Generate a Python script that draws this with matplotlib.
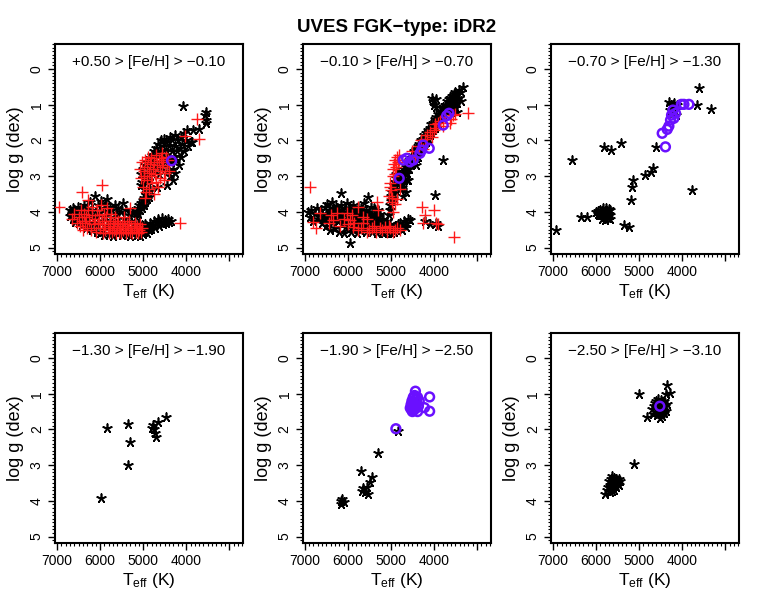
import numpy as np
import matplotlib
matplotlib.use("Agg")
import matplotlib.pyplot as plt
from matplotlib.ticker import MultipleLocator, FixedLocator

plt.rcParams['font.family'] = ['Liberation Sans', 'DejaVu Sans']
plt.rcParams['mathtext.default'] = 'regular'

title = "UVES FGK\u2212type: iDR2"
panel_labels = ["+0.50 > [Fe/H] > \u22120.10", "\u22120.10 > [Fe/H] > \u22120.70",
                "\u22120.70 > [Fe/H] > \u22121.30", "\u22121.30 > [Fe/H] > \u22121.90",
                "\u22121.90 > [Fe/H] > \u22122.50", "\u22122.50 > [Fe/H] > \u22123.10"]
x_ticks = [7000, 6000, 5000, 4000, 3000]
x_ticklabels = ["7000", "6000", "5000", "4000", ""]
y_ticks = [0, 1, 2, 3, 4, 5]

# ---------------- panel 1 : +0.50 > [Fe/H] > -0.10 ----------------
p1_black = [
 (6700,3.95),(6690,4.12),(6660,4.02),(6640,4.2),(6620,3.9),(6600,4.1),(6580,4.28),(6560,3.98),(6540,4.18),(6520,3.86),
 (6500,4.3),(6480,4.05),(6460,4.22),(6440,3.92),(6420,4.38),(6400,4.12),(6380,3.8),(6360,4.28),(6340,4.02),(6320,4.45),
 (6300,3.88),(6280,4.2),(6260,4.4),(6240,3.72),(6220,4.1),(6200,4.5),(6180,3.95),(6160,4.32),(6123,3.56),(6100,4.15),
 (6080,4.55),(6060,3.82),(6040,4.38),(6020,4.02),(6000,4.6),(5980,3.7),(5960,4.25),(5940,4.48),(5920,3.9),(5900,4.65),
 (5880,4.12),(5860,3.78),(5851,3.63),(5840,4.4),(5820,4.0),(5800,4.62),(5780,3.85),(5760,4.28),(5740,4.5),(5720,3.95),
 (5700,4.68),(5680,4.15),(5660,3.82),(5640,4.42),(5620,4.05),(5600,4.6),(5580,3.9),(5560,4.3),(5540,4.55),(5520,4.0),
 (5500,4.66),(5470,3.74),(5450,4.2),(5430,4.45),(5410,4.62),(5390,3.95),(5370,4.35),(5350,4.55),(5330,4.1),(5310,4.68),
 (5290,4.25),(5270,4.48),(5250,4.0),(5230,4.62),(5210,4.35),(5190,4.55),(5170,4.15),(5150,4.66),(5130,4.42),(5110,4.58),
 (5090,4.3),(5070,4.68),(5050,4.5),(5030,4.38),(5010,4.62),(4990,4.45),(4970,4.55),(4950,4.35),(4920,4.6),(4900,4.42),
 (4870,4.52),(4840,4.3),(4810,4.48),(4780,4.38),(4750,4.25),(4720,4.45),(4690,4.32),(4660,4.2),(4630,4.4),(4600,4.28),
 (4570,4.18),(4540,4.35),(4500,4.22),(4470,4.32),(4430,4.2),(4400,4.28),(4360,4.25),
 (5150,3.98),(5130,3.88),(5110,4.05),(5090,3.82),(5070,3.95),(5050,3.75),(5030,3.88),(5010,3.68),(4990,3.8),(4970,3.6),
 (4950,3.72),(4930,3.52),(4910,3.65),(4890,3.45),(4870,3.58),(4850,3.38),
 (5060,3.25),(5040,2.95),(5020,3.15),(5000,2.8),(4990,3.35),(4970,3.05),(4950,2.7),(4940,3.2),(4920,2.9),(4900,2.6),
 (4890,3.1),(4870,2.8),(4850,2.5),(4840,3.0),(4820,2.7),(4800,2.4),(4790,2.9),(4770,2.6),(4750,2.3),(4740,2.8),
 (4720,2.5),(4700,2.2),(4690,2.7),(4670,2.4),(4650,2.1),(4640,2.95),(4620,2.6),(4600,2.3),(4590,2.0),(4570,2.75),
 (4550,2.45),(4530,2.15),(4520,1.95),(4500,2.6),(4480,2.3),(4460,2.05),(4440,2.85),(4420,2.45),(4400,2.15),(4380,1.9),
 (4360,2.6),(4340,2.3),(4320,2.0),(4300,2.8),(4290,2.45),(4270,2.15),(4250,1.85),(4230,2.55),(4210,2.3),(4190,2.0),
 (4170,2.7),(4150,2.2),(4130,1.9),(4110,2.45),(4090,2.1),(4060,1.8),(4040,2.3),(4010,2.0),(3980,1.7),(3950,2.15),
 (3900,2.05),(3875,2.04),(3850,1.7),(3700,1.69),(3560,1.29),(3540,1.42),(3530,1.51),(3550,1.2),(4070,1.04),
 (4380,3.0),(4300,3.1),(4250,2.9),(4450,3.25),(4690,3.3)]
p1_red = [
 (6650,4.2),(6600,4.05),(6550,4.3),(6500,4.15),(6480,4.4),(6450,3.95),(6420,4.25),(6400,4.5),(6380,4.05),(6350,4.3),
 (6320,4.15),(6300,4.45),(6280,3.95),(6250,4.25),(6220,4.5),(6200,4.1),(6180,3.85),(6150,4.35),(6120,4.2),(6100,4.55),
 (6080,3.95),(6050,4.3),(6030,4.1),(6000,4.45),(5980,3.8),(5960,4.25),(5940,4.6),(5920,4.05),(5900,4.35),(5880,4.5),
 (5860,4.15),(5840,3.9),(5820,4.4),(5800,4.6),(5780,4.25),(5760,4.45),(5740,4.05),(5720,4.55),(5700,4.3),(5680,4.5),
 (5660,4.15),(5640,4.6),(5620,4.35),(5600,4.45),(5580,4.25),(5560,4.55),(5540,4.4),(5520,4.6),(5500,4.3),(5470,4.5),
 (5450,4.15),(5420,4.45),(5400,4.6),(5380,4.35),(5350,4.5),(5320,4.25),(5300,4.55),(5280,4.4),(5250,4.6),(5220,4.45),
 (5200,4.3),(5170,4.55),(5150,4.4),(5120,4.6),(5100,4.5),(5080,4.35),(5050,4.55),(5020,4.45),
 (6960,3.86),(6433,3.44),(5967,3.25),(6279,3.67),(5310,3.9),(4146,4.32),(3760,1.4),(3700,1.96),(4030,1.87),
 (5080,2.8),(5050,3.05),(5030,2.6),(5000,3.3),(4990,2.85),(4970,3.0),(4950,2.55),(4940,3.45),(4920,2.75),(4900,3.1),
 (4890,2.45),(4870,2.9),(4860,3.35),(4840,2.65),(4820,3.0),(4810,2.5),(4800,3.2),(4780,2.8),(4760,3.5),(4750,2.6),
 (4730,2.95),(4710,2.4),(4700,3.15),(4680,2.7),(4660,3.3),(4640,2.55),(4620,2.85),(4600,3.05),(4580,2.5),(4560,2.75),
 (4530,2.6),(4500,2.9),(4470,2.45),(4950,3.6),(4450,2.7),(4420,2.55),(4520,3.1),(4400,2.85),(4560,2.35)]
p1_blue = [(4340,2.57)]

# ---------------- panel 2 : -0.10 > [Fe/H] > -0.70 ----------------
p2_black = [
 (6930,4.0),(6880,4.15),(6850,3.95),(6800,4.25),(6760,4.05),(6720,3.9),(6700,4.2),(6660,4.1),(6620,3.95),(6600,4.3),
 (6570,4.15),(6540,3.85),(6520,4.05),(6500,4.4),(6480,3.78),(6460,4.2),(6440,3.95),(6420,4.5),(6400,4.1),(6380,3.72),
 (6360,4.3),(6340,3.9),(6320,4.15),(6300,4.45),(6280,3.85),(6260,4.05),(6240,4.25),(6220,3.95),(6200,4.55),(6180,4.15),
 (6163,3.48),(6150,3.8),(6130,4.35),(6110,4.0),(6090,4.6),(6070,3.9),(6050,4.2),(6030,4.45),(6010,3.75),(5990,4.1),
 (5970,4.3),(5953,4.88),(5950,3.88),(5930,4.55),(5910,4.05),(5890,4.25),(5870,3.8),(5850,4.45),(5830,3.95),(5810,4.15),
 (5790,4.6),(5770,3.85),(5750,4.3),(5730,4.05),(5710,4.5),(5690,3.9),(5670,4.2),(5650,4.4),(5630,3.75),(5610,4.1),
 (5590,4.55),(5570,3.95),(5550,4.3),(5527,3.58),(5510,4.15),(5490,4.45),(5470,3.85),(5450,4.05),(5430,4.55),(5410,4.25),
 (5390,3.9),(5370,4.4),(5350,4.1),(5330,4.6),(5310,3.95),(5290,4.3),(5270,4.5),(5250,4.05),(5230,4.4),(5210,4.55),
 (5190,4.2),(5170,4.45),(5150,4.6),(5130,4.35),(5110,4.5),(5090,4.25),(5070,4.58),(5050,4.4),(5030,4.52),(5010,4.35),
 (4990,4.6),(4960,4.45),(4930,4.55),(4900,4.4),(4870,4.5),(4840,4.35),(4810,4.45),(4780,4.3),(4750,4.5),(4720,4.38),
 (4690,4.25),(4660,4.42),(4630,4.3),(4600,4.2),(4557,4.23),
 (6450,4.05),(6350,4.2),(6250,3.95),(6150,4.1),(6050,4.0),(5950,4.15),(5850,4.05),(5750,4.15),(5650,4.0),(5550,4.1),
 (5450,4.2),(5350,4.25),(5250,4.3),(6300,4.02),(6200,4.22),(6100,4.3),(6000,4.22),(5900,3.95),(5800,4.3),(5700,4.1),
 (5600,4.25),(5500,4.0),(5400,4.1),(5300,4.15),(5200,4.4),(6550,4.22),(5880,4.4),(5680,4.35),(5480,4.3),(5780,4.0),
 (5050,4.1),(5030,3.95),(5010,3.8),(4990,3.7),(5000,3.55),(4980,3.45),(4960,3.6),(4950,3.35),(4940,3.5),(4930,3.25),
 (4910,3.15),(4900,3.4),(4890,3.05),(4870,2.95),(4850,3.2),(4830,2.85),(4810,3.05),(4750,3.3),(4700,3.0),(4650,3.45),
 (4600,3.1),(4720,3.55),
 (4780,3.0),(4780,3.35),(4740,2.95),(4740,3.2),(4700,2.8),(4700,3.1),(4660,2.75),(4660,2.95),(4620,2.6),(4620,2.9),
 (4620,3.1),(4580,2.55),(4580,2.8),(4540,2.5),(4540,2.7),(4500,2.4),(4500,2.65),(4460,2.3),(4460,2.55),(4420,2.25),
 (4420,2.5),(4420,2.7),(4380,2.15),(4380,2.45),(4340,2.1),(4340,2.35),(4300,2.0),(4300,2.3),(4260,1.95),(4260,2.2),
 (4220,1.85),(4220,2.1),(4180,1.8),(4180,2.05),(4140,1.7),(4140,1.95),(4100,1.65),(4100,1.85),(4060,1.55),(4060,1.8),
 (4020,1.5),(4020,1.7),(3980,1.4),(3980,1.65),(3940,1.35),(3940,1.55),(3900,1.25),(3900,1.5),(3860,1.2),(3860,1.4),
 (3820,1.1),(3820,1.35),(3780,1.05),(3780,1.25),(3740,1.0),(3740,1.15),(3700,0.9),(3700,1.1),(3660,0.85),(3660,1.05),
 (3620,0.8),(3620,1.0),(3580,0.75),(3580,0.95),(3580,1.15),(3540,0.7),(3540,0.9),(3540,1.1),(3500,0.65),(3500,0.85),
 (3500,1.05),(3460,0.7),(3460,0.95),(3460,1.2),(3420,0.6),(3420,0.8),(3380,0.65),(3380,0.9),(3332,0.51),
 (4050,0.8),(4010,0.9),(3990,1.0),(3960,0.85),(3940,1.05),(3783,2.55),(3980,3.53),(4200,4.25),(3950,4.3),(3900,4.4),
 (4100,4.35)]
p2_red = [
 (6884,3.31),(6807,4.28),(6730,4.46),(6652,4.04),(6263,4.04),(6340,4.23),(6186,4.4),(5953,4.23),(6030,4.04),(5760,3.86),
 (5876,4.42),(5760,4.5),(5643,4.32),(5566,4.55),(5450,4.46),(5333,3.72),(5295,3.95),(5256,4.46),(5140,4.42),(5023,4.46),
 (4907,4.5),(4790,4.5),(4984,3.72),(4907,3.77),(4868,3.63),(5023,3.31),(4790,3.35),(4907,2.93),(4285,3.86),(4208,4.09),
 (4247,4.32),(4945,4.0),(5700,4.45),(5500,4.5),(5400,4.4),(5350,4.55),(5200,4.5),(5100,4.55),(5050,4.4),(4950,4.55),
 (4850,4.45),(6100,4.2),(6000,4.35),(5900,4.1),(5850,4.3),(6400,4.1),(6450,4.3),(5650,4.15),(5550,4.2),(3527,4.7),
 (3960,4.3),(4000,3.95),(3900,4.35),
 (5040,3.55),(5000,3.4),(4980,3.6),(5020,3.2),(4960,2.8),(4940,3.0),(4920,2.65),(4900,2.55),(4880,2.75),(4860,2.45),
 (4840,2.6),(4820,2.4),(4800,2.55),(4500,2.3),(4450,2.45),(4350,2.15),(4300,2.0),(4250,2.25),(4200,1.95),(4150,1.85),
 (4100,1.75),(4050,1.9),(4000,1.7),(3980,1.55),(3950,1.65),(3900,1.5),(3850,1.45),(3800,1.6),(3750,1.35),(3600,1.4),
 (3550,1.3),(3510,1.25),(3200,1.24),(3620,1.5)]
p2_blue = [(4807,3.06),(4713,2.55),(4635,2.5),(4558,2.6),(4481,2.55),(4325,2.36),(4286,2.27),(4248,2.13),(4109,2.22),
           (3783,1.57),(3704,1.31),(3650,1.24)]

# ---------------- panel 3 : -0.70 > [Fe/H] > -1.30 ----------------
p3_black = [
 (6923,4.51),(6558,2.55),(6349,4.13),(6209,4.13),(5993,4.0),(5937,4.09),(5900,3.95),(5880,4.1),(5860,4.2),(5850,3.9),
 (5830,4.05),(5820,4.15),(5800,3.98),(5790,4.22),(5780,4.08),(5760,3.88),(5750,4.12),(5740,4.0),(5720,4.18),(5710,3.92),
 (5700,4.05),(5690,4.2),(5680,3.95),(5670,4.1),(5950,4.05),(5960,3.98),(5820,2.18),(5650,2.27),(5434,2.08),(5356,4.37),
 (5240,4.42),(5202,3.67),(5178,3.3),(5140,3.11),(4876,2.97),(4721,2.88),(4680,2.78),(4620,2.19),(4300,0.92),(4250,1.0),
 (4280,1.15),(4200,0.95),(4230,1.25),(4180,1.1),(4150,1.3),(4120,1.0),(3611,0.54),(3651,1.01),(3341,1.13),(3767,3.39)]
p3_blue = [(4216,1.15),(4248,1.29),(4194,1.38),(4272,1.43),(4155,1.24),(4310,1.6),(4349,1.69),(4465,1.8),(4390,2.18),
           (3960,0.99),(3844,0.99),(4020,0.99)]

# ---------------- panel 4 : -1.30 > [Fe/H] > -1.90 ----------------
p4_black = [(5991,3.92),(5830,1.95),(5350,1.85),(5310,2.35),(5349,3.0),(4800,1.95),(4770,1.88),(4740,2.0),
            (4720,2.1),(4700,2.2),(4650,1.8),(4480,1.65)]

# ---------------- panel 5 : -1.90 > [Fe/H] > -2.50 ----------------
p5_black = [(6170,4.1),(6130,3.95),(6100,4.02),(6150,4.0),(5697,3.17),(5680,3.71),(5604,3.75),(5565,3.61),(5542,3.8),
            (5488,3.47),(5449,3.33),(5640,3.65),(5295,2.66),(4830,2.03),(4400,1.15)]
p5_blue = [(4550,1.4),(4530,1.3),(4520,1.45),(4510,1.2),(4490,1.35),(4480,1.1),(4470,1.25),(4460,1.45),(4450,1.05),
           (4440,1.3),(4420,1.15),(4410,1.4),(4400,1.25),(4380,1.1),(4360,1.35),(4340,1.2),(4500,1.5),(4430,0.93),
           (4380,1.5),(4884,1.98),(4100,1.09),(4100,1.49),(4220,1.39)]

# ---------------- panel 6 : -2.50 > [Fe/H] > -3.10 ----------------
p6_black = [
 (4660,1.35),(4640,1.25),(4620,1.5),(4600,1.2),(4600,1.42),(4580,1.6),(4570,1.3),(4560,1.15),(4550,1.45),(4540,1.55),
 (4530,1.25),(4520,1.68),(4510,1.35),(4500,1.18),(4490,1.5),(4480,1.4),(4470,1.62),(4460,1.28),(4440,1.45),(4430,1.2),
 (4420,1.55),(4400,1.35),(4380,1.48),(4350,1.3),(4680,1.58),(4700,1.42),(4349,0.76),(4380,1.0),(4295,0.98),(4993,1.02),
 (4813,1.65),(5123,2.98),
 (5797,3.82),(5750,3.7),(5720,3.6),(5700,3.45),(5690,3.75),(5670,3.55),(5660,3.4),(5650,3.65),(5640,3.3),(5630,3.5),
 (5620,3.6),(5610,3.42),(5600,3.55),(5590,3.35),(5580,3.7),(5570,3.48),(5560,3.58),(5550,3.38),(5540,3.62),(5520,3.45),
 (5500,3.52),(5480,3.4),(5460,3.55),(5440,3.45),(5600,3.65),(5640,3.72)]
p6_blue = [(4520,1.35)]

panels = [(p1_black, p1_red, p1_blue), (p2_black, p2_red, p2_blue), (p3_black, [], p3_blue),
          (p4_black, [], []), (p5_black, [], p5_blue), (p6_black, [], p6_blue)]

W, H = 776, 599
fig = plt.figure(figsize=(W / 100, H / 100), dpi=100)
lefts = [55, 302.7, 551]
tops = [44, 333]
aw, ah = 188, 210

black_marker = (5, 2, 0)
for i, (bk, rd, bl) in enumerate(panels):
    r, c = divmod(i, 3)
    ax = fig.add_axes([lefts[c] / W, 1 - (tops[r] + ah) / H, aw / W, ah / H])
    if bk:
        a = np.array(bk)
        ax.scatter(a[:, 0], a[:, 1], marker=black_marker, s=40, c='black', linewidths=1.2, zorder=2)
    if rd:
        a = np.array(rd)
        ax.scatter(a[:, 0], a[:, 1], marker='+', s=75, c='#ff1a1a', linewidths=1.0, zorder=3)
    if bl:
        a = np.array(bl)
        ax.scatter(a[:, 0], a[:, 1], marker='o', s=40, facecolors='none', edgecolors='#6a10ff',
                   linewidths=1.8, zorder=4)
    ax.set_xlim(7050, 2680)
    ax.set_ylim(5.18, -0.70)
    ax.xaxis.set_major_locator(FixedLocator(x_ticks))
    ax.set_xticklabels(x_ticklabels)
    ax.xaxis.set_minor_locator(MultipleLocator(100))
    ax.yaxis.set_major_locator(FixedLocator(y_ticks))
    ax.yaxis.set_minor_locator(MultipleLocator(0.1))
    ax.tick_params(which='major', length=5, width=1.0, direction='out', labelsize=10, pad=3,
                   top=False, right=False)
    ax.tick_params(which='minor', length=2.5, width=0.8, direction='out', top=False, right=False)
    ax.tick_params(axis='y', labelrotation=90)
    for lab in ax.get_yticklabels():
        lab.set_va('center')
    for sp in ax.spines.values():
        sp.set_linewidth(1.5)
    ax.set_xlabel(r'T$_{eff}$ (K)', fontsize=12.5)
    ax.xaxis.set_label_coords(0.5, -0.135)
    ax.set_ylabel('log g (dex)', fontsize=13)
    ax.yaxis.set_label_coords(-0.165, 0.5)
    ax.text(0.5, 0.915, panel_labels[i], transform=ax.transAxes, ha='center', va='center', fontsize=11)

fig.text(397 / W, 1 - 28 / H, title, ha='center', va='center', fontsize=13.5, fontweight='bold')
fig.savefig('out.png', dpi=100)
